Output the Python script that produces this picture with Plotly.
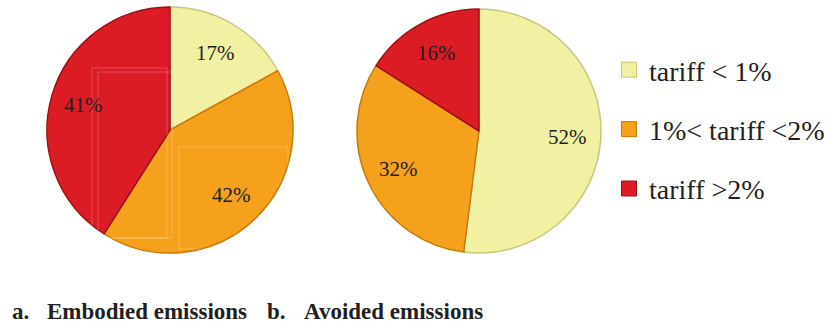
import math
import plotly.graph_objects as go

# Tariff bands and their colours
categories = ["tariff < 1%", "1%< tariff <2%", "tariff >2%"]
colors = ["#F2F0A2", "#F5A11C", "#DC1C25"]
edge_colors = ["#C9C77A", "#C97A0A", "#9E1016"]

# Shares (%) of each tariff band
embodied = [17, 42, 41]
avoided = [52, 32, 16]

captions = [("a.", "Embodied emissions"), ("b.", "Avoided emissions")]

W, H = 831, 324
FONT = "Liberation Serif"
INK = "#231F20"

fig = go.Figure()

pie_domains = [
    dict(x=[47 / W, 293 / W], y=[71 / H, 317 / H]),
    dict(x=[357 / W, 601 / W], y=[71 / H, 315 / H]),
]

annotations = []
for vals, dom in zip([embodied, avoided], pie_domains):
    fig.add_trace(go.Pie(
        labels=categories,
        values=vals,
        sort=False,
        direction="clockwise",
        rotation=0,
        domain=dom,
        marker=dict(colors=colors, line=dict(color=edge_colors, width=1.5)),
        textinfo="none",
        hoverinfo="label+value",
        showlegend=False,
    ))
    # Percentage labels placed along each slice's mid-angle
    cx = (dom["x"][0] + dom["x"][1]) / 2 * W
    cy = (dom["y"][0] + dom["y"][1]) / 2 * H
    r = min((dom["x"][1] - dom["x"][0]) * W, (dom["y"][1] - dom["y"][0]) * H) / 2
    total = sum(vals)
    cum = 0
    for v in vals:
        mid = (cum + v / 2) / total * 2 * math.pi
        cum += v
        px = cx + 0.73 * r * math.sin(mid)
        py = cy + 0.73 * r * math.cos(mid)
        annotations.append(dict(
            x=px / W, y=py / H, xref="paper", yref="paper", text=f"{v}%",
            showarrow=False, xanchor="center", yanchor="middle",
            font=dict(family=FONT, size=21, color=INK),
        ))

# Legend entries drawn as separate groups so their spacing can be set
for i, (name, c, ec) in enumerate(zip(categories, colors, edge_colors)):
    fig.add_trace(go.Scatter(
        x=[None], y=[None], mode="markers", name=name,
        legendgroup=f"g{i}",
        marker=dict(symbol="square", size=15, color=c, line=dict(color=ec, width=1)),
    ))

for (tag, text), (xt, xs) in zip(captions, [(10, 45), (265, 302)]):
    for label, xpos in [(tag, xt), (text, xs)]:
        annotations.append(dict(
            x=xpos / W, y=1 - 311 / H, xref="paper", yref="paper",
            text=f"<b>{label}</b>",
            showarrow=False, xanchor="left", yanchor="middle",
            font=dict(family=FONT, size=23, color=INK),
        ))

# Faint leftover text-box outlines over the first pie
box_line = dict(color="rgba(255,255,255,0.22)", width=1)
boxes = [(92, 68, 167, 238), (98, 72, 172, 238), (179, 147, 288, 249)]
shapes = [
    dict(type="rect", xref="paper", yref="paper",
         x0=x0 / W, x1=x1 / W, y0=1 - y1 / H, y1=1 - y0 / H, line=box_line)
    for x0, y0, x1, y1 in boxes
]

fig.update_layout(
    width=W, height=H,
    margin=dict(l=0, r=0, t=0, b=0),
    paper_bgcolor="white", plot_bgcolor="white",
    xaxis=dict(visible=False), yaxis=dict(visible=False),
    legend=dict(
        x=609 / W, y=1 - 45 / H, xanchor="left", yanchor="top",
        font=dict(family=FONT, size=28, color=INK),
        tracegroupgap=20, bgcolor="rgba(0,0,0,0)",
        itemsizing="trace",
    ),
    annotations=annotations,
    shapes=shapes,
)

fig.write_html("out.html")
